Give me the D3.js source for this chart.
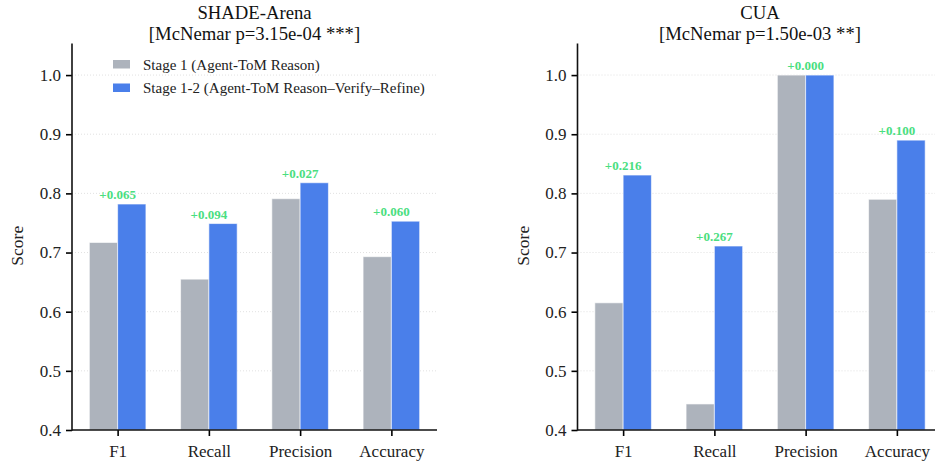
<!DOCTYPE html>
<html><head><meta charset="utf-8">
<script src="https://cdn.jsdelivr.net/npm/d3@7"></script>
<style>body{margin:0;background:#fff}svg{display:block}svg text{font-family:'Liberation Serif','Times New Roman',Times,serif !important}</style>
</head><body><svg id="c" width="935" height="464"></svg>
<script>
const categories = ["F1","Recall","Precision","Accuracy"];
const seriesNames = ["Stage 1 (Agent-ToM Reason)","Stage 1-2 (Agent-ToM Reason\u2013Verify\u2013Refine)"];
const shadeStage1 = [0.717,0.655,0.791,0.693];
const shadeStage12 = [0.782,0.749,0.818,0.753];
const cuaStage1 = [0.615,0.444,1.000,0.790];
const cuaStage12 = [0.831,0.711,1.000,0.890];
const yTicks = [0.4,0.5,0.6,0.7,0.8,0.9,1.0];
const panels = [
  {title:"SHADE-Arena", sub:"[McNemar p=3.15e-04 ***]", s1:shadeStage1, s2:shadeStage12, left:72, legend:true},
  {title:"CUA", sub:"[McNemar p=1.50e-03 **]", s1:cuaStage1, s2:cuaStage12, left:577.5, legend:false}
];
const colors = ["#adb3bc","#4a7fea"];
const green = "#4ade80";
const svg = d3.select("#c");
const yTop = 45.5, yBot = 430, pw = 365;
const y = d3.scaleLinear().domain([0.4,1.05]).range([yBot, yTop]);

panels.forEach(p => {
  const g = svg.append("g");
  const x = d3.scaleLinear().domain([-0.5,3.5]).range([p.left, p.left+pw]);
  const bw = 0.31;
  g.selectAll(".grid").data(yTicks.slice(1)).enter().append("line")
    .attr("x1",p.left).attr("x2",p.left+pw).attr("y1",d=>y(d)).attr("y2",d=>y(d))
    .attr("stroke","#d9d9d9").attr("stroke-width",0.8).attr("stroke-dasharray","1,2");
  [p.s1,p.s2].forEach((vals,si)=>{
    g.selectAll(".b"+si).data(vals).enter().append("rect")
      .attr("x",(d,i)=>x(i + (si===0 ? -bw : 0)))
      .attr("width",x(bw)-x(0))
      .attr("y",d=>y(d)).attr("height",d=>y(0.4)-y(d))
      .attr("fill",colors[si]).attr("stroke","#ffffff").attr("stroke-opacity",0.6).attr("stroke-width",1);
  });
  g.selectAll(".ann").data(p.s2).enter().append("text")
    .attr("x",(d,i)=>x(i)).attr("y",d=>y(d)-5)
    .attr("text-anchor","middle").attr("font-size",13).attr("font-weight","bold").attr("fill",green)
    .text((d,i)=>"+"+(d-p.s1[i]).toFixed(3));
  const ya = d3.axisLeft(y).tickValues(yTicks).tickFormat(d3.format(".1f")).tickSize(6).tickPadding(5);
  const yg = g.append("g").attr("transform",`translate(${p.left},0)`).call(ya);
  const xa = d3.axisBottom(x).tickValues([0,1,2,3]).tickFormat(i=>categories[i]).tickSize(6).tickPadding(9);
  const xg = g.append("g").attr("transform",`translate(0,${yBot})`).call(xa);
  [yg,xg].forEach(a=>{
    a.select(".domain").remove();
    a.attr("font-family",null).attr("font-size",null);
    a.selectAll("line").attr("stroke","#000").attr("stroke-width",1.6);
    a.selectAll("text").attr("font-size",17).attr("fill","#222");
  });
  g.append("line").attr("x1",p.left).attr("x2",p.left).attr("y1",yTop-2).attr("y2",yBot+0.8).attr("stroke","#111").attr("stroke-width",1.6);
  g.append("line").attr("x1",p.left).attr("x2",p.left+pw).attr("y1",yBot).attr("y2",yBot).attr("stroke","#111").attr("stroke-width",1.6);
  g.append("text").attr("transform",`translate(${p.left-49},${(yTop+yBot)/2+8}) rotate(-90)`)
    .attr("text-anchor","middle").attr("font-size",17.5).attr("fill","#222").text("Score");
  const tcx = p.legend ? 254.5 : 760;
  g.append("text").attr("x",tcx).attr("y",19).attr("text-anchor","middle").attr("font-size",18.7).attr("fill","#111").text(p.title);
  g.append("text").attr("x",tcx).attr("y",40).attr("text-anchor","middle").attr("font-size",18.7).attr("fill","#111").text(p.sub);
  if (p.legend) {
    const lg = g.append("g");
    seriesNames.forEach((n,i)=>{
      lg.append("rect").attr("x",113).attr("y",60+i*23.5).attr("width",17).attr("height",8.5).attr("fill",colors[i]);
      lg.append("text").attr("x",143).attr("y",69.5+i*23.5).attr("font-size",15).attr("fill","#222").text(n);
    });
  }
});
</script></body></html>
